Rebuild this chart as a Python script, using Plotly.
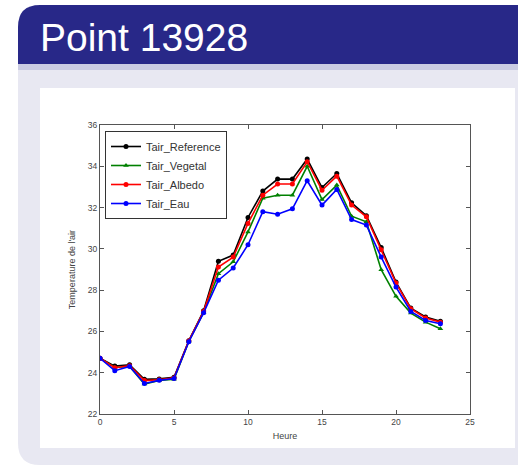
import plotly.graph_objects as go

hours = list(range(24))
tair_reference = [24.7, 24.32, 24.38, 23.68, 23.7, 23.78, 25.55, 27.0, 29.4, 29.7, 31.52, 32.8, 33.38, 33.38, 34.35, 32.97, 33.65, 32.23, 31.6, 30.06, 28.39, 27.13, 26.7, 26.49]
tair_vegetal = [24.68, 24.25, 24.3, 23.45, 23.62, 23.68, 25.52, 26.92, 28.8, 29.37, 30.82, 32.45, 32.6, 32.6, 34.0, 32.39, 33.09, 31.58, 31.31, 28.99, 27.7, 26.89, 26.45, 26.13]
tair_albedo = [24.7, 24.24, 24.34, 23.62, 23.66, 23.75, 25.54, 26.96, 29.12, 29.6, 31.23, 32.6, 33.14, 33.14, 34.22, 32.84, 33.52, 32.12, 31.55, 29.96, 28.34, 27.1, 26.65, 26.45]
tair_eau = [24.7, 24.1, 24.3, 23.48, 23.63, 23.72, 25.5, 26.9, 28.48, 29.07, 30.2, 31.8, 31.68, 31.94, 33.3, 32.12, 32.88, 31.42, 31.15, 29.6, 28.15, 26.97, 26.53, 26.37]

W, H = 518, 467
L, R, T, B = 100, 470, 125, 414  # plot area in pixels


def px(x):
    return (x - L) / (R - L)


def py(y):
    return (B - y) / (B - T)


def rounded_path(x0, y0, x1, y1, r_tl=0, r_bl=0):
    pts = []
    pts.append(f"M {px(x0 + r_tl)},{py(y0)}")
    pts.append(f"L {px(x1)},{py(y0)}")
    pts.append(f"L {px(x1)},{py(y1)}")
    pts.append(f"L {px(x0 + r_bl)},{py(y1)}")
    if r_bl:
        pts.append(f"Q {px(x0)},{py(y1)} {px(x0)},{py(y1 - r_bl)}")
    pts.append(f"L {px(x0)},{py(y0 + r_tl)}")
    if r_tl:
        pts.append(f"Q {px(x0)},{py(y0)} {px(x0 + r_tl)},{py(y0)}")
    pts.append("Z")
    return " ".join(pts)


shapes = [
    dict(type="path", xref="paper", yref="paper", layer="below",
         path=rounded_path(18, 60, 518, 465, r_bl=22),
         fillcolor="#e8e8f2", line=dict(width=0)),
    dict(type="rect", xref="paper", yref="paper", layer="below",
         x0=px(18), x1=px(518), y0=py(70), y1=py(62),
         fillcolor="#b8b9d8", line=dict(width=0), opacity=0.6),
    dict(type="path", xref="paper", yref="paper", layer="below",
         path=rounded_path(18, 5, 518, 64, r_tl=22),
         fillcolor="#282888", line=dict(width=0)),
    dict(type="rect", xref="paper", yref="paper", layer="below",
         x0=px(40), x1=px(515), y0=py(448), y1=py(88),
         fillcolor="#ffffff", line=dict(width=0)),
]

fig = go.Figure()
series = [
    ("Tair_Reference", tair_reference, "#000000", "circle"),
    ("Tair_Vegetal", tair_vegetal, "#008000", "triangle-up"),
    ("Tair_Albedo", tair_albedo, "#ff0000", "circle"),
    ("Tair_Eau", tair_eau, "#0000ff", "circle"),
]
for name, vals, col, sym in series:
    fig.add_trace(go.Scatter(
        x=hours, y=vals, name=name, mode="lines+markers",
        line=dict(color=col, width=1.6),
        marker=dict(color=col, symbol=sym, size=5),
    ))

axis_common = dict(
    showgrid=False, zeroline=False, showline=True, linecolor="#555555", linewidth=1,
    mirror="allticks", ticks="inside", ticklen=4, tickcolor="#555555",
    tickfont=dict(family="Liberation Sans", size=8.5, color="#444444"),
)
title_font = dict(family="Liberation Sans", size=9, color="#444444")

fig.update_layout(
    width=W, height=H,
    margin=dict(l=L, r=W - R, t=T, b=H - B, pad=0),
    paper_bgcolor="#ffffff", plot_bgcolor="#ffffff",
    shapes=shapes,
    showlegend=True,
    legend=dict(
        x=px(105), y=py(131), xanchor="left", yanchor="top",
        bgcolor="#ffffff", bordercolor="#333333", borderwidth=1,
        font=dict(family="Liberation Sans", size=11, color="#333333"),
        tracegroupgap=0, itemwidth=30,
    ),
    xaxis=dict(range=[0, 25], dtick=5,
               title=dict(text="Heure", font=title_font, standoff=6),
               **axis_common),
    yaxis=dict(range=[22, 36], dtick=2,
               title=dict(text="Temperature de l'air", font=title_font, standoff=10),
               **axis_common),
    annotations=[
        dict(text="Point 13928", xref="paper", yref="paper", x=px(38), y=py(37),
             xanchor="left", yanchor="middle", showarrow=False,
             font=dict(family="Liberation Sans", size=39, color="#ffffff")),
    ],
)

fig.write_html("out.html", config={"displayModeBar": False},
               post_script="document.body.style.margin='0px';document.body.style.overflow='hidden';")
